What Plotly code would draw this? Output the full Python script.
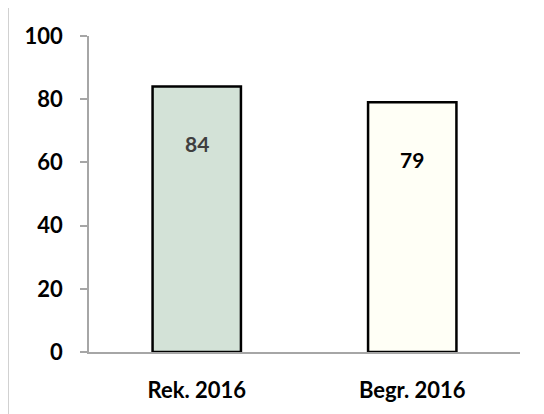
import plotly.graph_objects as go

categories = ["Rek. 2016", "Begr. 2016"]
values = [84, 79]
bar_colors = ["#d3e2d7", "#fffff6"]
label_colors = ["#3f3f3f", "#000000"]
y_ticks = [0, 20, 40, 60, 80, 100]

FONT = "Lato, Open Sans, sans-serif"

fig = go.Figure()
fig.add_trace(go.Bar(
    x=categories, y=values,
    marker=dict(color=bar_colors, line=dict(color="#000000", width=2.5)),
    width=0.41,
    hoverinfo="skip",
))

for cat, v, c in zip(categories, values, label_colors):
    fig.add_annotation(x=cat, y=v, text=f"<b>{v}</b>", showarrow=False,
                       yshift=-57, font=dict(family=FONT, size=21, color=c))

fig.add_shape(type="rect", xref="paper", yref="paper",
              x0=-0.188, x1=1.5, y0=-1, y1=1.092,
              line=dict(color="#c0c0c0", width=1.5), layer="below")

fig.update_layout(
    width=536, height=406,
    margin=dict(l=81, r=24, t=28, b=62),
    paper_bgcolor="white", plot_bgcolor="white",
    showlegend=False,
    bargap=0.59,
    font=dict(family=FONT, size=22, color="#000000"),
    xaxis=dict(showline=True, linecolor="#a6a6a6", linewidth=1.5,
               ticks="", showgrid=False, ticklabelstandoff=18,
               tickfont=dict(family=FONT, size=22, weight="bold")),
    yaxis=dict(range=[0, 100], tickvals=y_ticks, showline=True,
               linecolor="#a6a6a6", linewidth=1.5, ticks="outside",
               ticklen=7, tickcolor="#a6a6a6", tickwidth=1.5,
               showgrid=False, zeroline=False, ticklabelstandoff=13,
               tickfont=dict(family=FONT, size=22, weight="bold")),
)

fig.write_html("out.html")
